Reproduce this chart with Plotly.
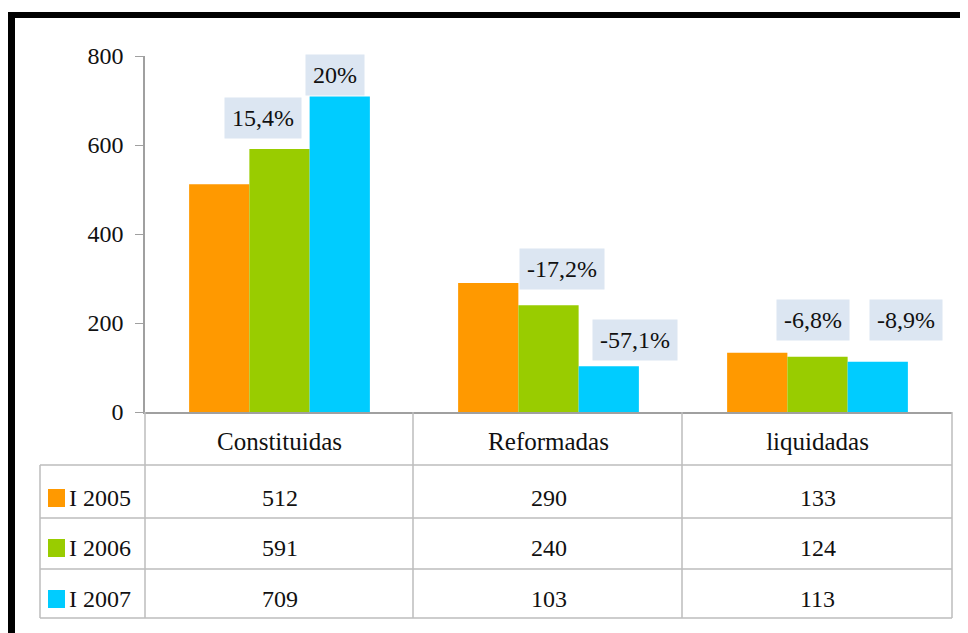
import plotly.graph_objects as go

# ---- data ----
categories = ["Constituidas", "Reformadas", "liquidadas"]
series_names = ["I 2005", "I 2006", "I 2007"]
values_2005 = [512, 290, 133]
values_2006 = [591, 240, 124]
values_2007 = [709, 103, 113]
change_2006 = ["15,4%", "-17,2%", "-6,8%"]
change_2007 = ["20%", "-57,1%", "-8,9%"]
y_ticks = [0, 200, 400, 600, 800]

colors = ["#FF9900", "#99CC00", "#00CCFF"]
series_values = [values_2005, values_2006, values_2007]

OFF = 8  # page body margin
W, H = 960, 625
ML, MR, MT, MB = 137, 16, 48, 221
PW, PH = W - ML - MR, H - MT - MB
FONT = "Liberation Serif, Times New Roman, DejaVu Serif, serif"

def px(x):  # page pixel -> paper
    return (x - OFF - ML) / PW

def py(y):
    return (H - MB - (y - OFF)) / PH

fig = go.Figure()
for name, vals, col in zip(series_names, series_values, colors):
    fig.add_trace(go.Bar(x=categories, y=vals, name=name, marker=dict(color=col, line=dict(width=0))))

grid_col = "#BDBDBD"
shapes = []
for yy in [465, 518, 569, 618]:
    shapes.append(dict(type="line", xref="paper", yref="paper", x0=px(40), x1=px(952), y0=py(yy), y1=py(yy),
                       line=dict(color=grid_col, width=1.5)))
shapes.append(dict(type="line", xref="paper", yref="paper", x0=px(40), x1=px(40), y0=py(465), y1=py(618),
                   line=dict(color=grid_col, width=1.5)))
for xx in [145, 413, 682, 952]:
    shapes.append(dict(type="line", xref="paper", yref="paper", x0=px(xx), x1=px(xx), y0=py(412), y1=py(618),
                       line=dict(color=grid_col, width=1.5)))
# black frame (left + top)
shapes.append(dict(type="rect", xref="paper", yref="paper", x0=px(8), x1=px(15), y0=py(12), y1=py(640),
                   fillcolor="black", line=dict(width=0)))
shapes.append(dict(type="rect", xref="paper", yref="paper", x0=px(8), x1=px(975), y0=py(12), y1=py(18),
                   fillcolor="black", line=dict(width=0)))

annotations = []
row_y = [498, 548, 599]
TXT = "#111111"
for i, (name, vals, col) in enumerate(zip(series_names, series_values, colors)):
    yc = row_y[i]
    shapes.append(dict(type="rect", xref="paper", yref="paper", x0=px(48), x1=px(65), y0=py(yc - 9), y1=py(yc + 9),
                       fillcolor=col, line=dict(width=0)))
    annotations.append(dict(text=name, xref="paper", yref="paper", x=px(67), y=py(yc), xanchor="left",
                            yanchor="middle", showarrow=False, font=dict(family=FONT, size=24, color=TXT)))
    for cat, v in zip(categories, vals):
        annotations.append(dict(text=str(v), xref="x", yref="paper", x=cat, y=py(yc), xanchor="center",
                                yanchor="middle", showarrow=False, font=dict(family=FONT, size=24, color=TXT)))

# percentage change labels
shift_2006 = [(-17, 31), (13, 36), (-5, 37)]
shift_2007 = [(-5, 22), (26, 26), (28, 42)]
bar_offset = 60
for cat, v, txt, (dx, dy) in zip(categories, values_2006, change_2006, shift_2006):
    annotations.append(dict(text=txt, xref="x", yref="y", x=cat, y=v, xshift=dx, yshift=dy,
                            xanchor="center", yanchor="middle", showarrow=False, bgcolor="#DCE6F2", borderpad=7,
                            font=dict(family=FONT, size=24, color=TXT)))
for cat, v, txt, (dx, dy) in zip(categories, values_2007, change_2007, shift_2007):
    annotations.append(dict(text=txt, xref="x", yref="y", x=cat, y=v, xshift=bar_offset + dx, yshift=dy,
                            xanchor="center", yanchor="middle", showarrow=False, bgcolor="#DCE6F2", borderpad=7,
                            font=dict(family=FONT, size=24, color=TXT)))

fig.update_layout(
    width=W, height=H,
    margin=dict(l=ML, r=MR, t=MT, b=MB, pad=0),
    paper_bgcolor="white", plot_bgcolor="white",
    barmode="group", bargap=0.328, bargroupgap=0,
    showlegend=False,
    shapes=shapes, annotations=annotations,
    font=dict(family=FONT, size=24, color=TXT),
)
fig.update_xaxes(showline=True, linecolor="#A0A0A0", linewidth=1.5, ticks="", showgrid=False,
                 tickfont=dict(family=FONT, size=25, color=TXT), ticklabelstandoff=6)
fig.update_yaxes(range=[0, 800], tickvals=y_ticks, showline=True, linecolor="#A0A0A0", linewidth=1.5,
                 ticks="outside", ticklen=8, tickcolor="#A0A0A0", showgrid=False, zeroline=False,
                 tickfont=dict(family=FONT, size=24, color=TXT), ticklabelstandoff=7)

fig.write_html("out.html")
